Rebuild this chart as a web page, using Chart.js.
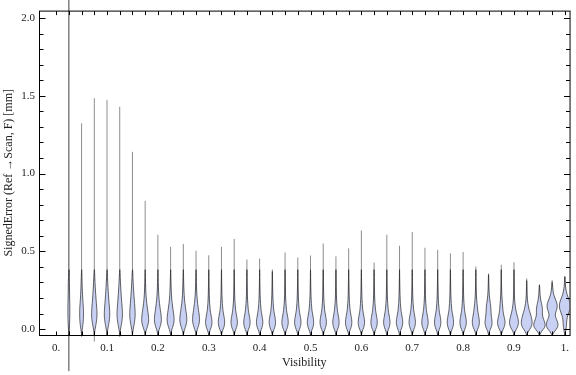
<!DOCTYPE html>
<html>
<head>
<meta charset="utf-8">
<script src="https://cdn.jsdelivr.net/npm/chart.js@4.4.1/dist/chart.umd.min.js"></script>
<style>
  html, body { margin: 0; padding: 0; background: #fff; }
  #wrap { width: 576px; height: 375px; }
</style>
</head>
<body>
<div id="wrap"><canvas id="violinChart"></canvas></div>
<script>
// Violin positions on the Visibility axis
const positions = [
  0.025, 0.05, 0.075, 0.1, 0.125, 0.15, 0.175, 0.2, 0.225, 0.25,
  0.275, 0.3, 0.325, 0.35, 0.375, 0.4, 0.425, 0.45, 0.475, 0.5,
  0.525, 0.55, 0.575, 0.6, 0.625, 0.65, 0.675, 0.7, 0.725, 0.75,
  0.775, 0.8, 0.825, 0.85, 0.875, 0.9, 0.925, 0.95, 0.975, 1.0
];

// Whisker extents (mm)
const maxValues = [
  2.30, 1.323, 1.485, 1.474, 1.430, 1.140, 0.825, 0.607, 0.529, 0.548,
  0.504, 0.475, 0.529, 0.580, 0.447, 0.454, 0.384, 0.493, 0.460, 0.473,
  0.550, 0.468, 0.519, 0.634, 0.428, 0.607, 0.536, 0.624, 0.523, 0.510,
  0.487, 0.496, 0.403, 0.357, 0.414, 0.430, 0.326, 0.288, 0.315, 0.340
];
const minValues = [
  -0.27, -0.05, -0.08, -0.045, -0.05, -0.045, -0.04, -0.04, -0.04, -0.04,
  -0.04, -0.04, -0.04, -0.04, -0.04, -0.04, -0.04, -0.04, -0.04, -0.04,
  -0.04, -0.04, -0.04, -0.04, -0.04, -0.04, -0.04, -0.04, -0.04, -0.04,
  -0.04, -0.04, -0.04, -0.04, -0.04, -0.04, -0.04, -0.04, -0.04, -0.04
];

// Density profile: relative density read at these error levels
const profileLevels = [-0.04, -0.015, 0.01, 0.035, 0.06, 0.09, 0.12, 0.15, 0.18, 0.22, 0.27, 0.33, 0.4];
const needleDensity = [0, 0.2, 0.4, 0.6, 0.7, 0.8, 0.8, 0.8, 0.7, 0.6, 0.5, 0.4, 0.3];
const slimDensity   = [0, 0.3, 0.8, 1.2, 1.5, 1.6, 1.6, 1.4, 1.1, 0.8, 0.5, 0.3, 0.1];
const tallDensity   = [0, 0.3, 0.9, 1.5, 2.0, 2.3, 2.2, 1.9, 1.6, 1.2, 0.8, 0.4, 0.1];
const earlyDensity  = [0, 0.5, 1.6, 2.6, 3.0, 2.7, 2.1, 1.6, 1.1, 0.7, 0.4, 0.2, 0.05];
const midDensity    = [0, 0.6, 2.0, 2.7, 2.6, 1.9, 1.2, 0.9, 0.6, 0.4, 0.25, 0.12, 0];
const densities = [
  needleDensity, slimDensity, tallDensity, tallDensity, tallDensity, tallDensity,
  earlyDensity, earlyDensity, earlyDensity, earlyDensity, earlyDensity,
  midDensity, midDensity, midDensity, midDensity, midDensity, midDensity, midDensity,
  midDensity, midDensity, midDensity, midDensity, midDensity, midDensity, midDensity,
  midDensity, midDensity, midDensity, midDensity, midDensity, midDensity, midDensity,
  [0, 0.6, 2.2, 3.0, 2.9, 2.2, 1.6, 1.2, 0.8, 0.45, 0.25, 0.12, 0],
  [0, 0.6, 2.2, 3.0, 2.8, 2.2, 2.0, 1.8, 1.2, 0.6, 0.3, 0.15, 0],
  [0, 0.6, 2.3, 3.2, 3.0, 2.0, 1.4, 1.1, 0.8, 0.45, 0.25, 0.1, 0],
  [0, 0.8, 2.8, 3.8, 3.6, 2.6, 1.6, 1.0, 0.6, 0.35, 0.2, 0.1, 0],
  [0, 1.2, 3.6, 4.6, 4.4, 3.4, 2.2, 1.3, 0.7, 0.35, 0.2, 0.1, 0],
  [0, 1.5, 4.6, 4.8, 3.6, 2.4, 2.6, 2.2, 1.2, 0.5, 0.2, 0.1, 0],
  [0, 1.8, 4.6, 5.0, 3.8, 2.2, 3.6, 4.5, 3.4, 1.2, 0.4, 0.15, 0],
  [0, 0.6, 1.2, 1.4, 1.6, 2.4, 4.0, 4.8, 4.0, 1.8, 0.5, 0.2, 0]
];

// Axis ticks
const xTickValues = [0, 0.1, 0.2, 0.3, 0.4, 0.5, 0.6, 0.7, 0.8, 0.9, 1.0];
const xTickLabels = ['0.', '0.1', '0.2', '0.3', '0.4', '0.5', '0.6', '0.7', '0.8', '0.9', '1.'];
const yTickValues = [0, 0.5, 1.0, 1.5, 2.0];
const yTickLabels = ['0.0', '0.5', '1.0', '1.5', '2.0'];

const serif = "'Liberation Serif', 'Times New Roman', serif";
const labelColor = '#222';
const densityPx = 1.2;  // px of half-width per density unit

// whiskers as one broken line
const whiskerPoints = [];
positions.forEach((p, i) => {
  whiskerPoints.push({ x: p, y: minValues[i] });
  whiskerPoints.push({ x: p, y: maxValues[i] });
  whiskerPoints.push({ x: p, y: null });
});

function traceSmooth(ctx, pts) {
  ctx.moveTo(pts[0].x, pts[0].y);
  for (let i = 1; i < pts.length - 1; i++) {
    const mx = (pts[i].x + pts[i + 1].x) / 2;
    const my = (pts[i].y + pts[i + 1].y) / 2;
    ctx.quadraticCurveTo(pts[i].x, pts[i].y, mx, my);
  }
  const last = pts[pts.length - 1];
  ctx.lineTo(last.x, last.y);
}

const violinBodies = {
  id: 'violinBodies',
  afterDatasetsDraw(chart) {
    const { ctx, chartArea, scales: { x, y } } = chart;
    ctx.save();
    ctx.beginPath();
    ctx.rect(chartArea.left, 0, chartArea.right - chartArea.left, chart.height);
    ctx.clip();
    positions.forEach((p, i) => {
      const cx = x.getPixelForValue(p);
      const d = densities[i];
      // profile stops at the violin's own maximum
      const prof = [];
      profileLevels.forEach((lv, k) => {
        if (lv < maxValues[i]) prof.push({ lv, w: d[k] * densityPx });
      });
      if (maxValues[i] < profileLevels[profileLevels.length - 1]) {
        prof.push({ lv: maxValues[i], w: 0 });
      }
      const right = prof.map(q => ({ x: cx + q.w, y: y.getPixelForValue(q.lv) }));
      const left = prof.map(q => ({ x: cx - q.w, y: y.getPixelForValue(q.lv) })).reverse();
      ctx.beginPath();
      traceSmooth(ctx, right.concat(left.slice(1)));
      ctx.closePath();
      ctx.fillStyle = '#c8d0f3';
      ctx.fill();
      ctx.lineWidth = 1;
      ctx.strokeStyle = 'rgba(40, 40, 40, 0.7)';
      ctx.stroke();
    });
    ctx.restore();
  }
};

const framePlugin = {
  id: 'framePlugin',
  afterDraw(chart) {
    const { ctx, chartArea: a, scales: { x, y } } = chart;
    ctx.save();
    ctx.strokeStyle = '#000';
    ctx.lineWidth = 1;
    const L = a.left + 0.5, R = a.right + 0.5, T = a.top + 0.5, B = a.bottom + 0.5;
    ctx.strokeRect(L, T, R - L, B - T);
    ctx.beginPath();
    // x ticks every 0.025 on bottom and top
    for (let k = 0; k <= 40; k++) {
      const px = Math.round(x.getPixelForValue(k * 0.025)) + 0.5;
      ctx.moveTo(px, B); ctx.lineTo(px, B - 4);
      ctx.moveTo(px, T); ctx.lineTo(px, T + 4);
    }
    // y ticks every 0.1 on left and right
    for (let k = 0; k <= 20; k++) {
      const py = Math.round(y.getPixelForValue(k * 0.1)) + 0.5;
      const len = k % 5 === 0 ? 6 : 4;
      ctx.moveTo(L, py); ctx.lineTo(L + len, py);
      ctx.moveTo(R, py); ctx.lineTo(R - len, py);
    }
    ctx.stroke();
    ctx.restore();
  }
};

new Chart(document.getElementById('violinChart'), {
  type: 'scatter',
  data: {
    datasets: [{
      data: whiskerPoints,
      showLine: true,
      spanGaps: false,
      pointRadius: 0,
      borderColor: 'rgba(0, 0, 0, 0.45)',
      borderWidth: 1,
      segment: {
        borderColor: c => c.p0DataIndex < 3 ? 'rgba(0, 0, 0, 0.75)' : 'rgba(0, 0, 0, 0.45)'
      },
      clip: false
    }]
  },
  options: {
    responsive: true,
    maintainAspectRatio: false,
    animation: false,
    layout: { padding: { top: 4, right: 1, left: 0, bottom: 0 } },
    plugins: {
      legend: { display: false },
      tooltip: { enabled: false }
    },
    scales: {
      x: {
        type: 'linear',
        min: -0.0337,
        max: 1.0092,
        afterFit: s => { s.height = 40; },
        afterBuildTicks: s => { s.ticks = xTickValues.map(v => ({ value: v })); },
        grid: { display: false, drawTicks: false },
        border: { display: false },
        ticks: {
          autoSkip: false,
          maxRotation: 0,
          padding: 7,
          color: labelColor,
          font: { family: serif, size: 11 },
          callback: (v, i) => xTickLabels[i]
        },
        title: {
          display: true,
          text: 'Visibility',
          color: labelColor,
          font: { family: serif, size: 12 },
          padding: { top: 0, bottom: 5 }
        }
      },
      y: {
        type: 'linear',
        min: -0.0378,
        max: 2.048,
        afterFit: s => { s.width = 39; },
        afterBuildTicks: s => { s.ticks = yTickValues.map(v => ({ value: v })); },
        grid: { display: false, drawTicks: false },
        border: { display: false },
        ticks: {
          padding: 4,
          color: labelColor,
          font: { family: serif, size: 11 },
          callback: (v, i) => yTickLabels[i]
        },
        title: {
          display: true,
          text: 'SignedError (Ref \u2192Scan, F) [mm]',
          color: labelColor,
          font: { family: serif, size: 12 },
          padding: { top: 2, bottom: 0 }
        }
      }
    }
  },
  plugins: [violinBodies, framePlugin]
});
</script>
</body>
</html>
